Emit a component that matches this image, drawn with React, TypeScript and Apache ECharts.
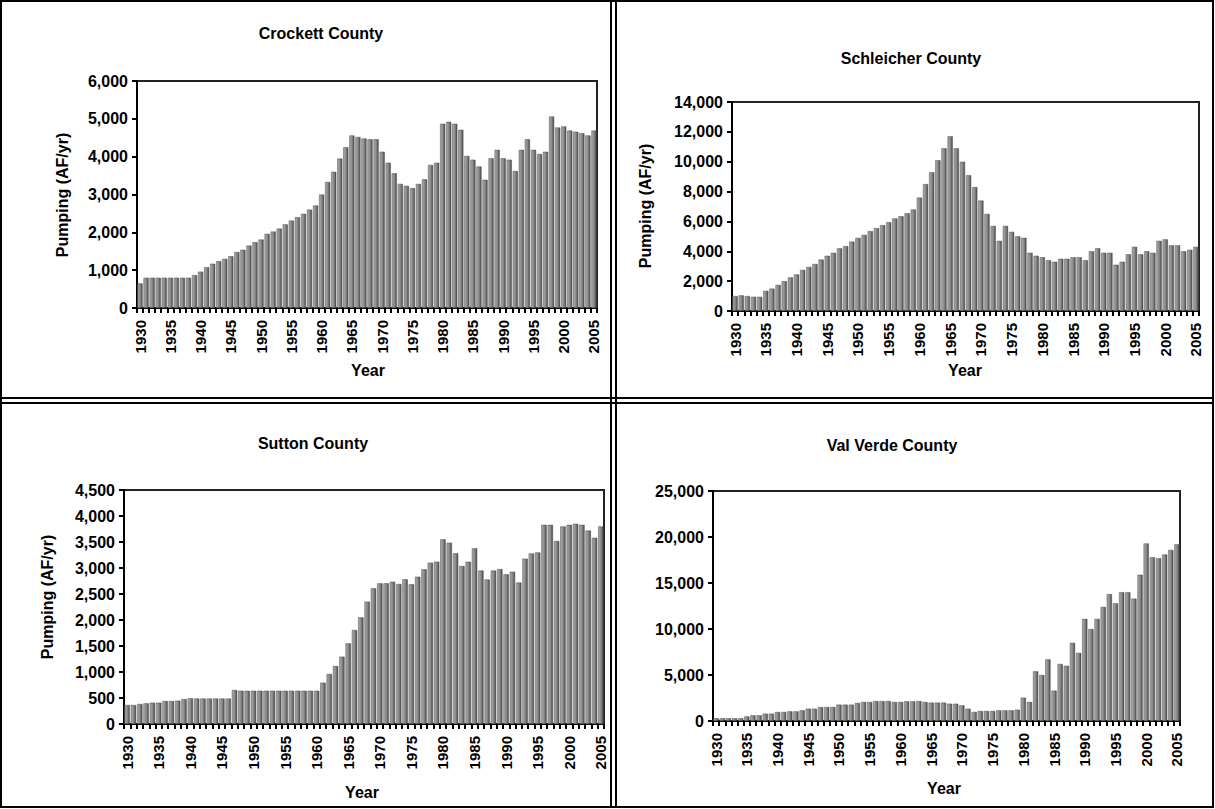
import React, { useEffect, useRef } from "react";
import * as echarts from "echarts";

const years = [
  "1930","1931","1932","1933","1934","1935","1936","1937","1938","1939",
  "1940","1941","1942","1943","1944","1945","1946","1947","1948","1949",
  "1950","1951","1952","1953","1954","1955","1956","1957","1958","1959",
  "1960","1961","1962","1963","1964","1965","1966","1967","1968","1969",
  "1970","1971","1972","1973","1974","1975","1976","1977","1978","1979",
  "1980","1981","1982","1983","1984","1985","1986","1987","1988","1989",
  "1990","1991","1992","1993","1994","1995","1996","1997","1998","1999",
  "2000","2001","2002","2003","2004","2005",
];

const crockett = [
  650, 800, 800, 800, 800, 800, 800, 800, 800, 870,
  960, 1080, 1170, 1240, 1300, 1370, 1480, 1540, 1650, 1740,
  1810, 1960, 2020, 2100, 2210, 2310, 2400, 2490, 2600, 2710,
  3000, 3330, 3600, 3950, 4250, 4560, 4520, 4480, 4460, 4460,
  4130, 3840, 3560, 3280, 3230, 3170, 3280, 3400, 3780, 3840,
  4870, 4920, 4870, 4710, 4020, 3920, 3740, 3390, 3960, 4180,
  3960, 3920, 3620, 4180, 4460, 4180, 4070, 4130, 5060, 4770,
  4800, 4690, 4660, 4620, 4560, 4690,
];

const schleicher = [
  1000, 1050, 1000, 950, 950, 1350, 1500, 1750, 2000, 2250,
  2450, 2750, 2950, 3150, 3450, 3700, 3900, 4200, 4350, 4650,
  4900, 5100, 5350, 5550, 5750, 5950, 6200, 6350, 6550, 6800,
  7600, 8500, 9300, 10100, 10900, 11700, 10900, 10000, 9100, 8300,
  7400, 6500, 5700, 4700, 5700, 5300, 5000, 4900, 3900, 3700,
  3600, 3400, 3300, 3500, 3500, 3600, 3600, 3400, 4000, 4200,
  3900, 3900, 3100, 3300, 3800, 4300, 3800, 4000, 3900, 4700,
  4800, 4400, 4400, 4000, 4100, 4300,
];

const sutton = [
  365, 365, 385, 397, 410, 410, 442, 442, 449, 480,
  494, 490, 490, 490, 490, 490, 490, 654, 640, 640,
  640, 640, 640, 640, 640, 640, 640, 640, 640, 640,
  640, 795, 962, 1115, 1295, 1551, 1808, 2051, 2353, 2609,
  2705, 2705, 2737, 2692, 2782, 2686, 2833, 2974, 3103, 3122,
  3551, 3487, 3282, 3038, 3122, 3378, 2950, 2780, 2950, 2980,
  2880, 2930, 2720, 3180, 3280, 3300, 3830, 3830, 3520, 3800,
  3830, 3850, 3830, 3720, 3580, 3800,
];

const valVerde = [
  300, 300, 300, 300, 300, 500, 620, 620, 800, 800,
  980, 980, 1050, 1050, 1160, 1340, 1340, 1520, 1520, 1520,
  1780, 1780, 1780, 1960, 2070, 2070, 2170, 2170, 2170, 2070,
  2070, 2140, 2140, 2170, 2070, 2000, 2000, 2000, 1880, 1880,
  1700, 1340, 980, 1090, 1090, 1090, 1160, 1160, 1160, 1230,
  2540, 2070, 5400, 5000, 6700, 3300, 6200, 6000, 8500, 7400,
  11100, 10000, 11100, 12400, 13800, 12800, 14000, 14000, 13300, 15900,
  19300, 17800, 17700, 18100, 18600, 19200,
];

const titles = ["Crockett County", "Schleicher County", "Sutton County", "Val Verde County"];
const yMax = [6000, 14000, 4500, 25000];
const yInterval = [1000, 2000, 500, 5000];
const yAxisName = "Pumping (AF/yr)";
const xAxisName = "Year";

const layout = [
  { left: 137, top: 81, width: 460, height: 227, tx: 321, ty: 33, nx: 62, ny: 195, yx: 368, yy: 370, showName: true },
  { left: 732, top: 102, width: 467, height: 209, tx: 911, ty: 58, nx: 645, ny: 206, yx: 965, yy: 370, showName: true },
  { left: 124, top: 490, width: 480, height: 234, tx: 313, ty: 443, nx: 47, ny: 597, yx: 362, yy: 792, showName: true },
  { left: 713, top: 491, width: 467, height: 230, tx: 892, ty: 445, nx: 633, ny: 590, yx: 944, yy: 788, showName: false },
];

const FONT = "'Liberation Sans', Arial, sans-serif";

export default function App() {
  const ref = useRef<HTMLDivElement>(null);

  useEffect(() => {
    if (!ref.current) return;
    const chart = echarts.init(ref.current, null, { renderer: "svg" });
    const series = [crockett, schleicher, sutton, valVerde];

    const barColor = new echarts.graphic.LinearGradient(0, 0, 1, 0, [
      { offset: 0, color: "#ababab" },
      { offset: 0.55, color: "#878787" },
      { offset: 1, color: "#464646" },
    ]);

    const graphics: any[] = [
      { type: "rect", shape: { x: 1, y: 1, width: 1212, height: 806 }, style: { fill: "none", stroke: "#000", lineWidth: 2 } },
      { type: "line", shape: { x1: 611, y1: 1, x2: 611, y2: 807 }, style: { stroke: "#000", lineWidth: 2 } },
      { type: "line", shape: { x1: 616, y1: 1, x2: 616, y2: 807 }, style: { stroke: "#000", lineWidth: 2 } },
      { type: "line", shape: { x1: 1, y1: 398, x2: 1213, y2: 398 }, style: { stroke: "#000", lineWidth: 2 } },
      { type: "line", shape: { x1: 1, y1: 403, x2: 1213, y2: 403 }, style: { stroke: "#000", lineWidth: 2 } },
    ];

    layout.forEach((l, i) => {
      graphics.push({
        type: "text", x: l.tx, y: l.ty,
        style: { text: titles[i], font: `bold 16px ${FONT}`, fill: "#000", textAlign: "center", textVerticalAlign: "middle" },
      });
      graphics.push({
        type: "text", x: l.yx, y: l.yy,
        style: { text: xAxisName, font: `bold 16px ${FONT}`, fill: "#000", textAlign: "center", textVerticalAlign: "middle" },
      });
      if (l.showName) {
        graphics.push({
          type: "text", x: l.nx, y: l.ny, rotation: Math.PI / 2,
          style: { text: yAxisName, font: `bold 16px ${FONT}`, fill: "#000", textAlign: "center", textVerticalAlign: "middle" },
        });
      }
    });

    const option: any = {
      animation: false,
      backgroundColor: "#fff",
      grid: layout.map((l) => ({
        left: l.left, top: l.top, width: l.width, height: l.height,
        show: true, borderColor: "#222", borderWidth: 2, backgroundColor: "transparent",
      })),
      xAxis: layout.map((_, i) => ({
        type: "category",
        gridIndex: i,
        data: years,
        axisLine: { show: true, lineStyle: { color: "#000", width: 2 } },
        axisTick: { show: true, interval: 0, length: 5, lineStyle: { color: "#000", width: 2 } },
        axisLabel: {
          interval: 4, rotate: 90, margin: 12,
          fontFamily: FONT, fontWeight: "bold", fontSize: 15, color: "#000",
        },
      })),
      yAxis: layout.map((_, i) => ({
        type: "value",
        gridIndex: i,
        min: 0,
        max: yMax[i],
        interval: yInterval[i],
        axisLine: { show: true, lineStyle: { color: "#000", width: 2 } },
        axisTick: { show: true, inside: false, length: 5, lineStyle: { color: "#000", width: 2 } },
        splitLine: { show: false },
        axisLabel: {
          margin: 9,
          fontFamily: FONT, fontWeight: "bold", fontSize: 16, color: "#000",
          formatter: (v: number) => v.toLocaleString("en-US"),
        },
      })),
      series: series.map((d, i) => ({
        type: "bar",
        xAxisIndex: i,
        yAxisIndex: i,
        data: d,
        barCategoryGap: "15%",
        itemStyle: { color: barColor, borderColor: "#505050", borderWidth: 0.5 },
      })),
      graphic: graphics,
    };

    chart.setOption(option);
    return () => chart.dispose();
  }, []);

  return (
    <div
      ref={ref}
      style={{ position: "fixed", left: 0, top: 0, width: 1215, height: 809, background: "#fff" }}
    />
  );
}
